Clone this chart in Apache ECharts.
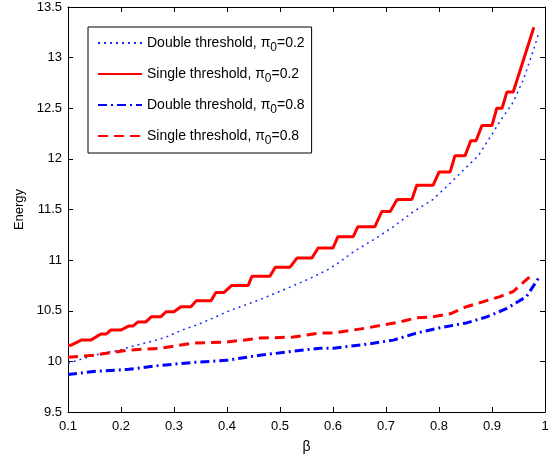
<!DOCTYPE html>
<html><head><meta charset="utf-8">
<script src="https://cdn.jsdelivr.net/npm/echarts@6/dist/echarts.min.js"></script>
<style>html,body{margin:0;padding:0;background:#fff}#c{width:558px;height:462px}</style>
</head><body><div id="c"></div>
<script>
// Series names
const seriesNames = ['Double threshold, π0=0.2','Single threshold, π0=0.2','Double threshold, π0=0.8','Single threshold, π0=0.8'];
// Double threshold, pi0=0.2 (dotted blue)
const betaDouble02 = [0.100,0.130,0.164,0.197,0.222,0.260,0.285,0.316,0.348,0.370,0.400,0.462,0.513,0.557,0.588,0.607,0.638,0.676,0.714,0.752,0.789,0.821,0.852,0.874,0.896,0.915,0.940,0.959,0.972,0.981,0.989];
const energyDouble02 = [9.98,10.03,10.08,10.11,10.15,10.20,10.24,10.31,10.37,10.42,10.49,10.61,10.72,10.82,10.90,10.96,11.08,11.20,11.33,11.48,11.60,11.76,11.92,12.03,12.21,12.37,12.56,12.78,12.98,13.12,13.26];
// Single threshold, pi0=0.2 (solid red, staircase)
const betaSingle02 = [0.100,0.106,0.125,0.143,0.162,0.172,0.181,0.200,0.215,0.223,0.232,0.247,0.257,0.275,0.285,0.300,0.313,0.332,0.342,0.370,0.379,0.394,0.409,0.440,0.447,0.481,0.491,0.519,0.532,0.560,0.572,0.600,0.609,0.638,0.647,0.679,0.692,0.708,0.721,0.749,0.758,0.789,0.800,0.821,0.830,0.849,0.860,0.870,0.881,0.900,0.909,0.919,0.928,0.940,0.979];
const energySingle02 = [10.16,10.16,10.21,10.21,10.27,10.27,10.31,10.31,10.35,10.35,10.39,10.39,10.44,10.44,10.49,10.49,10.54,10.54,10.60,10.60,10.68,10.68,10.75,10.75,10.84,10.84,10.93,10.93,11.02,11.02,11.12,11.12,11.23,11.23,11.33,11.33,11.48,11.48,11.60,11.60,11.74,11.74,11.87,11.87,12.03,12.03,12.18,12.18,12.33,12.33,12.50,12.50,12.66,12.66,13.30];
// Double threshold, pi0=0.8 (dash-dot blue)
const betaDouble08 = [0.100,0.148,0.211,0.274,0.336,0.399,0.462,0.525,0.575,0.601,0.664,0.714,0.758,0.800,0.852,0.890,0.927,0.965,0.990];
const energyDouble08 = [9.87,9.90,9.92,9.96,9.99,10.01,10.06,10.10,10.13,10.13,10.17,10.21,10.28,10.33,10.38,10.44,10.52,10.64,10.84];
// Single threshold, pi0=0.8 (dashed red)
const betaSingle08 = [0.100,0.148,0.211,0.274,0.336,0.399,0.462,0.525,0.575,0.601,0.664,0.726,0.758,0.789,0.821,0.852,0.884,0.915,0.940,0.972];
const energySingle08 = [10.04,10.06,10.11,10.13,10.18,10.19,10.23,10.24,10.28,10.28,10.33,10.39,10.43,10.44,10.47,10.54,10.59,10.64,10.69,10.84];

const zip = (a, b) => a.map((v, i) => [v, b[i]]);
const FONT = 'Liberation Sans, Arial, sans-serif';
const chart = echarts.init(document.getElementById('c'), null, {renderer: 'canvas'});

const axisCommon = {
  axisLine: {show: true, onZero: false, lineStyle: {color: '#000', width: 1}},
  axisTick: {show: true, inside: true, length: 5, lineStyle: {color: '#000'}},
  splitLine: {show: false}
};

chart.setOption({
  animation: false,
  backgroundColor: '#fff',
  grid: {left: 68, right: 13, top: 7, bottom: 50, show: false},
  legend: {
    orient: 'vertical', left: 88, top: 27,
    data: seriesNames,
    itemWidth: 44, itemHeight: 14, itemGap: 13,
    padding: [9, 7, 6, 9],
    borderColor: '#000', borderWidth: 1, backgroundColor: '#fff',
    selectedMode: false,
    itemStyle: {opacity: 0, borderWidth: 0},
    textStyle: {
      fontFamily: FONT, fontSize: 14, color: '#000',
      rich: {
        n: {fontFamily: FONT, fontSize: 14, color: '#000'},
        sub: {fontFamily: FONT, fontSize: 12, color: '#000', padding: [10, 0, 0, 0]}
      }
    },
    formatter: name => {
      const i = name.indexOf('π0');
      return '{n|' + name.slice(0, i + 1) + '}{sub|0}{n|' + name.slice(i + 2) + '}';
    }
  },
  xAxis: [
    Object.assign({}, axisCommon, {
      type: 'value', min: 0.1, max: 1, interval: 0.1, position: 'bottom',
      name: 'β', nameLocation: 'middle', nameGap: 28,
      nameTextStyle: {fontFamily: FONT, fontSize: 14, color: '#000'},
      axisLabel: {fontFamily: FONT, fontSize: 13, color: '#000', margin: 8,
        formatter: v => String(+v.toFixed(1))}
    }),
    Object.assign({}, axisCommon, {
      type: 'value', min: 0.1, max: 1, interval: 0.1, position: 'top',
      axisLabel: {show: false}
    })
  ],
  yAxis: [
    Object.assign({}, axisCommon, {
      type: 'value', min: 9.5, max: 13.5, interval: 0.5, position: 'left',
      name: 'Energy', nameLocation: 'middle', nameGap: 33,
      nameTextStyle: {fontFamily: FONT, fontSize: 13, color: '#000'},
      axisLabel: {fontFamily: FONT, fontSize: 13, color: '#000', margin: 6,
        formatter: v => String(+v.toFixed(1))}
    }),
    Object.assign({}, axisCommon, {
      type: 'value', min: 9.5, max: 13.5, interval: 0.5, position: 'right',
      axisLabel: {show: false}
    })
  ],
  series: [
    {name: seriesNames[0], type: 'line', symbol: 'none', data: zip(betaDouble02, energyDouble02),
      color: '#1a2cff', lineStyle: {color: '#1a2cff', width: 1.5, type: [2, 4]}, z: 2},
    {name: seriesNames[1], type: 'line', symbol: 'none', data: zip(betaSingle02, energySingle02),
      color: '#ff0000', lineStyle: {color: '#ff0000', width: 3, type: 'solid'}, z: 3},
    {name: seriesNames[2], type: 'line', symbol: 'none', data: zip(betaDouble08, energyDouble08),
      color: '#0000ff', lineStyle: {color: '#0000ff', width: 3, type: [9, 4, 2, 4]}, z: 3},
    {name: seriesNames[3], type: 'line', symbol: 'none', data: zip(betaSingle08, energySingle08),
      color: '#ff0000', lineStyle: {color: '#ff0000', width: 3, type: [10, 6]}, z: 3}
  ]
});
</script></body></html>
